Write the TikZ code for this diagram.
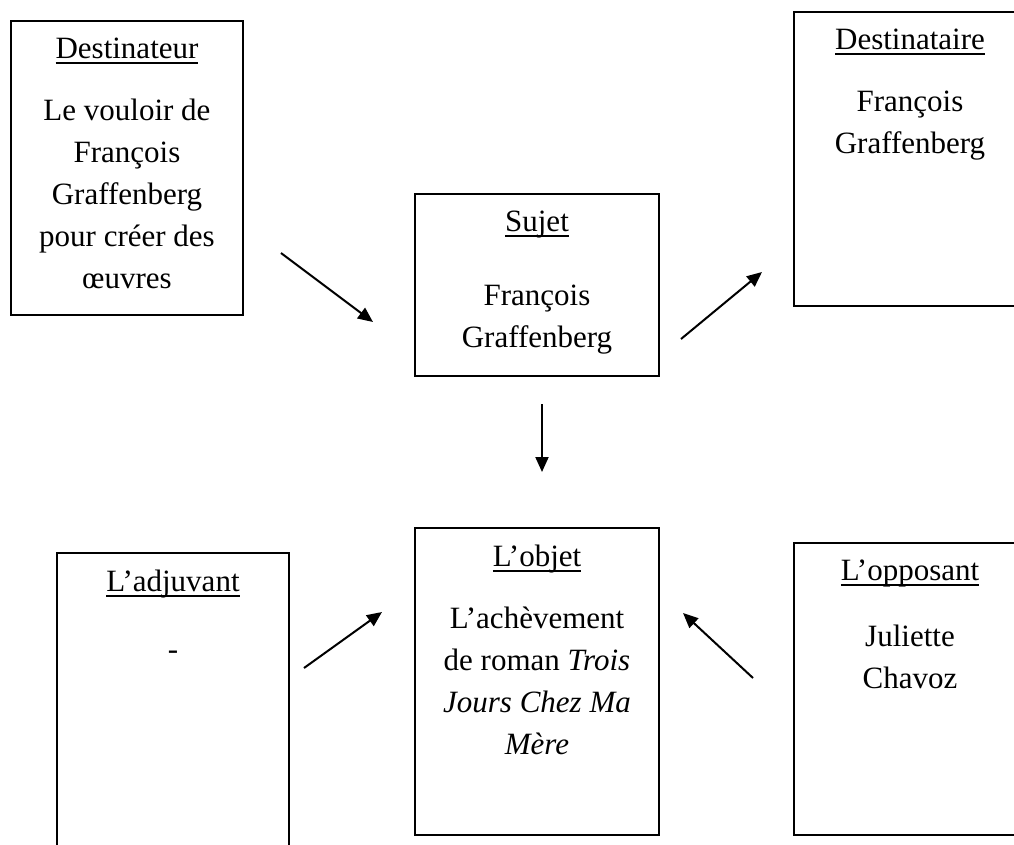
\documentclass[tikz,border=0pt]{standalone}
\usepackage{fontspec}
\setmainfont{Liberation Serif}
\usetikzlibrary{
arrows.meta,
positioning
}
\tikzset{>={Triangle[length=15pt,width=13pt]}}
\newcommand{\uword}[1]{\leavevmode\setbox0\hbox{#1}\rlap{\rule[-5pt]{\wd0}{1.5pt}}\box0}

\begin{document}
\begin{tikzpicture}[x=1pt, y=-1pt,
	box/.style={draw,line width=1.8pt,inner sep=0pt},
	txt/.style={align=center,inner sep=0pt,anchor=north,font=\fontsize{31}{42}\selectfont},
	arr/.style={->,line width=2pt}]
	\clip (0,0) rectangle (1014,844);
	\node[box,minimum width=232pt,minimum height=294pt] (dtr) at (127,168) {};
	\node[box,minimum width=232pt,minimum height=294pt] (dta) at (910,159) {};
	\node[box,minimum width=244pt,minimum height=182pt] (suj) at (537,285) {};
	\node[box,minimum width=244pt,minimum height=307pt] (obj) at (537,681.5) {};
	\node[box,minimum width=232pt,minimum height=327pt] (adj) at (173,716.5) {};
	\node[box,minimum width=232pt,minimum height=292pt] (opp) at (910,689) {};
	
	\node[txt] (dtrtxt) at ([yshift=-18pt]dtr.north) {\uword{Destinateur}\\[20pt]Le vouloir de\\François\\Graffenberg\\pour créer des\\œuvres};
	\node[txt] (dtatxt) at ([yshift=-18pt]dta.north) {\uword{Destinataire}\\[20pt]François\\Graffenberg};
	\node[txt] (sujtxt) at ([yshift=-18pt]suj.north) {\uword{Sujet}\\[32pt]François\\Graffenberg};
	\node[txt] (objtxt) at ([yshift=-18pt]obj.north) {\uword{L’objet}\\[20pt]L’achèvement\\de roman \textit{Trois}\\\textit{Jours Chez Ma}\\\textit{Mère}};
	\node[txt] (adjtxt) at ([yshift=-18pt]adj.north) {\uword{L’adjuvant}\\[26pt]-};
	\node[txt] (opptxt) at ([yshift=-18pt]opp.north) {\uword{L’opposant}\\[24pt]Juliette\\Chavoz};
	
	\coordinate (dtrout) at (281,253);
	\coordinate (sujin)  at (373,322);
	\coordinate (sujout) at (681,339);
	\coordinate (dtain)  at (762,272);
	\coordinate (sujdown) at (542,404);
	\coordinate (objtop) at (542,472);
	\coordinate (adjout) at (304,668);
	\coordinate (objinl) at (382,612);
	\coordinate (oppout) at (753,678);
	\coordinate (objinr) at (683,613);
	
	\draw[arr] (dtrout) -- (sujin);
	\draw[arr] (sujout) -- (dtain);
	\draw[arr] (sujdown) -- (objtop);
	\draw[arr] (adjout) -- (objinl);
	\draw[arr] (oppout) -- (objinr);
\end{tikzpicture}
\end{document}
